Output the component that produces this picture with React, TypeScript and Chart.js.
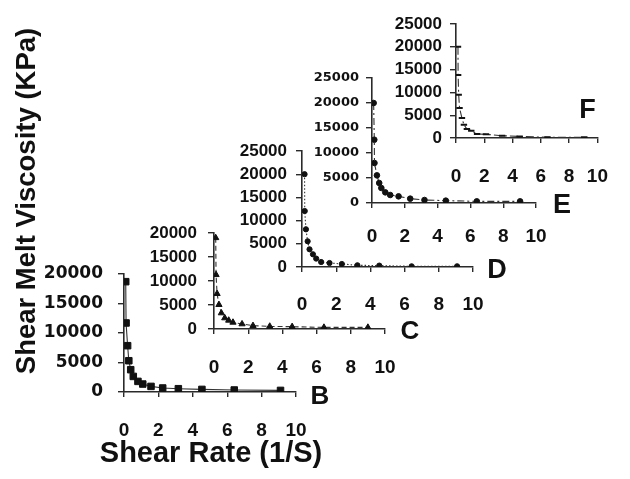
import React, { useEffect, useRef } from 'react';
import { Chart, registerables } from 'chart.js';

Chart.register(...registerables);

// ---- data ----
const shearRateB = [0.1, 0.12, 0.21, 0.28, 0.39, 0.54, 0.81, 1.09, 1.57, 2.25, 3.16, 4.53, 6.41, 9.1];
const viscosityB = [18700, 11700, 7850, 5300, 3780, 2640, 1800, 1350, 950, 680, 560, 440, 340, 270];

const shearRateC = [0.1, 0.12, 0.18, 0.29, 0.43, 0.63, 0.86, 1.11, 1.64, 2.28, 3.26, 4.57, 6.43, 9.0];
const viscosityC = [19000, 11300, 7350, 5060, 3330, 2290, 1800, 1380, 1040, 690, 550, 480, 330, 330];

const shearRateD = [0.15, 0.16, 0.23, 0.33, 0.44, 0.64, 0.83, 1.12, 1.61, 2.33, 3.24, 4.52, 6.41, 9.07];
const viscosityD = [20000, 12070, 8125, 5540, 3815, 2740, 1810, 1080, 860, 650, 370, 300, 150, 150];

const shearRateE = [0.1, 0.14, 0.15, 0.3, 0.44, 0.57, 0.81, 1.11, 1.62, 2.33, 3.2, 4.5, 6.39, 9.03];
const viscosityE = [20000, 12660, 8000, 5530, 4000, 3000, 2130, 1600, 1330, 870, 600, 470, 330, 330];

const shearRateF = [0.14, 0.15, 0.19, 0.25, 0.42, 0.56, 0.77, 1.08, 1.49, 2.12, 3.26, 4.5, 6.47, 9.07];
const viscosityF = [20000, 13840, 9470, 6560, 4370, 2910, 1970, 1600, 870, 800, 500, 350, 150, 150];

const panelNames = ['B', 'C', 'D', 'E', 'F'];
const xTickStep = 2;
const yTickStep = 5000;
const xMax = 10;
const yMaxes = [20000, 20000, 25000, 25000, 25000];

const yTitle = 'Shear Melt Viscosity (KPa)';
const xTitle = 'Shear Rate (1/S)';

// ---- layout / style ----
const W = 630;
const H = 479;
const INK = '#111';
const AXIS = '#2a2a2a';

type Panel = {
  name: string;
  xs: number[];
  ys: number[];
  yMax: number;
  area: { l: number; r: number; t: number; b: number };
  xH: number;
  xPad: number;
  yPad: number;
  yFont: { family: string; size: number; weight: string };
  letter: { dx: number; dy: number; size: number };
  pointStyle: string;
  pointRadius: number;
  dash: number[];
  mainTitles?: boolean;
};

const armFont = (size: number) => ({ family: '"Liberation Sans", Arial, sans-serif', size, weight: 'bold' });
const djvFont = (size: number) => ({ family: '"DejaVu Sans", sans-serif', size, weight: 'bold' });

const panels: Panel[] = [
  {
    name: panelNames[0], xs: shearRateB, ys: viscosityB, yMax: yMaxes[0],
    area: { l: 124, r: 296, t: 274, b: 392 }, xH: 78, xPad: 22, yPad: 15,
    yFont: djvFont(17), letter: { dx: 24, dy: 5, size: 26 },
    pointStyle: 'rect', pointRadius: 4.6, dash: [], mainTitles: true,
  },
  {
    name: panelNames[1], xs: shearRateC, ys: viscosityC, yMax: yMaxes[1],
    area: { l: 214, r: 385, t: 233, b: 329 }, xH: 45, xPad: 22, yPad: 11,
    yFont: armFont(17), letter: { dx: 25, dy: 3, size: 26 },
    pointStyle: 'triangle', pointRadius: 3.6, dash: [5, 3],
  },
  {
    name: panelNames[2], xs: shearRateD, ys: viscosityD, yMax: yMaxes[2],
    area: { l: 302, r: 473, t: 151, b: 267 }, xH: 45, xPad: 21, yPad: 9,
    yFont: armFont(17), letter: { dx: 24, dy: 4, size: 27 },
    pointStyle: 'circle', pointRadius: 2.6, dash: [1.5, 2],
  },
  {
    name: panelNames[3], xs: shearRateE, ys: viscosityE, yMax: yMaxes[3],
    area: { l: 372, r: 536, t: 78, b: 203 }, xH: 45, xPad: 17, yPad: 7,
    yFont: djvFont(13), letter: { dx: 26, dy: 3, size: 27 },
    pointStyle: 'circle', pointRadius: 2.8, dash: [7, 3, 2, 3],
  },
  {
    name: panelNames[4], xs: shearRateF, ys: viscosityF, yMax: yMaxes[4],
    area: { l: 456, r: 617, t: 24, b: 138 }, xH: 45, xPad: 22, yPad: 8,
    yFont: armFont(17), letter: { dx: -10, dy: -27, size: 27 },
    pointStyle: 'line', pointRadius: 3.2, dash: [8, 3, 2, 3],
  },
];

const panelLetter = {
  id: 'panelLetter',
  afterDraw(chart: any, _args: any, opts: any) {
    const { ctx, chartArea } = chart;
    ctx.save();
    ctx.font = `bold ${opts.size}px "Liberation Sans", Arial, sans-serif`;
    ctx.fillStyle = INK;
    ctx.textAlign = 'center';
    ctx.textBaseline = 'middle';
    ctx.fillText(opts.text, chartArea.right + opts.dx, chartArea.bottom + opts.dy);
    ctx.restore();
  },
};

// axis titles of the whole figure, drawn on panel B's canvas
const figureTitles = {
  id: 'figureTitles',
  afterDraw(chart: any, _args: any, opts: any) {
    if (!opts || !opts.show) return;
    const { ctx, chartArea } = chart;
    ctx.save();
    ctx.fillStyle = INK;
    ctx.textAlign = 'center';
    ctx.textBaseline = 'middle';
    ctx.font = `bold ${opts.xSize}px "Liberation Sans", Arial, sans-serif`;
    ctx.fillText(xTitle, (chartArea.left + chartArea.right) / 2 + opts.xdx, chartArea.bottom + opts.xdy);
    ctx.translate(opts.yx, opts.yy);
    ctx.rotate(-Math.PI / 2);
    ctx.font = `bold ${opts.ySize}px "Liberation Sans", Arial, sans-serif`;
    ctx.fillText(yTitle, 0, 0);
    ctx.restore();
  },
};

const plainNumber = (v: any) => String(v);

function buildChart(canvas: HTMLCanvasElement, p: Panel) {
  const yW = 90;
  const padding = {
    left: p.area.l - yW,
    right: W - p.area.r,
    top: p.area.t,
    bottom: H - p.area.b - p.xH,
  };
  return new Chart(canvas, {
    type: 'line',
    data: {
      datasets: [
        {
          data: p.xs.map((x, i) => ({ x, y: p.ys[i] })),
          borderColor: '#333',
          borderWidth: 1.1,
          borderDash: p.dash,
          pointStyle: p.pointStyle as any,
          pointRadius: p.pointRadius,
          pointBackgroundColor: INK,
          pointBorderColor: INK,
          pointBorderWidth: p.pointStyle === 'line' ? 2 : 1,
          tension: 0,
          fill: false,
        },
      ],
    },
    options: {
      animation: false,
      responsive: false,
      events: [],
      layout: { padding, autoPadding: false },
      plugins: {
        legend: { display: false },
        tooltip: { enabled: false },
        panelLetter: { text: p.name, dx: p.letter.dx, dy: p.letter.dy, size: p.letter.size },
        figureTitles: p.mainTitles
          ? { show: true, xSize: 29, xdx: 1, xdy: 62, ySize: 27.5, yx: 27, yy: 201 }
          : { show: false },
      } as any,
      scales: {
        x: {
          type: 'linear',
          min: 0,
          max: xMax,
          border: { display: true, color: AXIS, width: 1.6 },
          grid: { display: true, drawOnChartArea: false, drawTicks: true, tickLength: 5, color: AXIS, lineWidth: 1.4 },
          ticks: {
            stepSize: xTickStep,
            autoSkip: false,
            maxRotation: 0,
            padding: p.xPad,
            color: INK,
            font: armFont(19) as any,
            callback: plainNumber,
          },
          afterFit: (s: any) => {
            s.height = p.xH;
          },
        },
        y: {
          type: 'linear',
          min: 0,
          max: p.yMax,
          border: { display: true, color: AXIS, width: 1.6 },
          grid: { display: true, drawOnChartArea: false, drawTicks: true, tickLength: 6, color: AXIS, lineWidth: 1.4 },
          ticks: {
            stepSize: yTickStep,
            autoSkip: false,
            padding: p.yPad,
            color: INK,
            font: p.yFont as any,
            callback: plainNumber,
          },
          afterFit: (s: any) => {
            s.width = yW;
          },
        },
      },
    },
    plugins: [panelLetter, figureTitles],
  });
}

function PanelCanvas({ p, z }: { p: Panel; z: number }) {
  const ref = useRef<HTMLCanvasElement | null>(null);
  useEffect(() => {
    if (!ref.current) return;
    const chart = buildChart(ref.current, p);
    return () => chart.destroy();
  }, [p]);
  return (
    <canvas
      ref={ref}
      width={W}
      height={H}
      style={{ position: 'absolute', left: 0, top: 0, width: W, height: H, zIndex: z }}
    />
  );
}

export default function App() {
  return (
    <div style={{ position: 'absolute', left: 0, top: 0, width: W, height: H, background: '#fff', overflow: 'hidden' }}>
      {panels.map((p, i) => (
        <PanelCanvas key={p.name} p={p} z={i + 1} />
      ))}
    </div>
  );
}
